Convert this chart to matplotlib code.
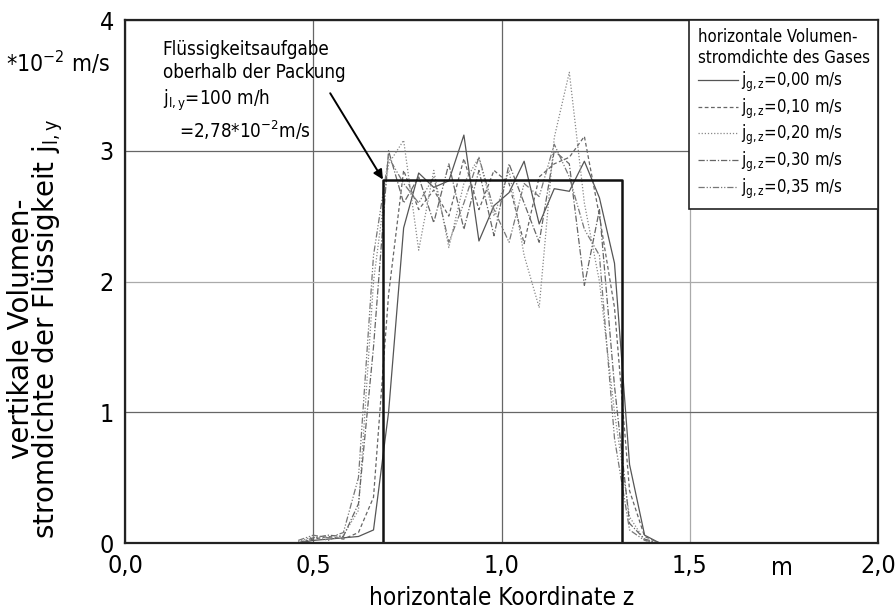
import matplotlib
matplotlib.use("Agg")
import matplotlib.pyplot as plt
from matplotlib.lines import Line2D

plt.rcParams['font.family'] = ['DejaVu Sans']
plt.rcParams['font.stretch'] = 'condensed'
plt.rcParams['mathtext.fontset'] = 'custom'
plt.rcParams['mathtext.rm'] = 'DejaVu Sans:stretch=condensed'
plt.rcParams['mathtext.it'] = 'DejaVu Sans:stretch=condensed'

# data
z = [0.46, 0.50, 0.54, 0.58, 0.62, 0.66, 0.70, 0.74, 0.78, 0.82, 0.86, 0.90, 0.94,
     0.98, 1.02, 1.06, 1.10, 1.14, 1.18, 1.22, 1.26, 1.30, 1.34, 1.38, 1.42]
j_000 = [0.00, 0.02, 0.03, 0.04, 0.05, 0.10, 1.00, 2.41, 2.83, 2.72, 2.77, 3.12, 2.31,
         2.58, 2.68, 2.92, 2.44, 2.71, 2.69, 2.92, 2.64, 2.14, 0.60, 0.06, 0.00]
j_010 = [0.00, 0.03, 0.05, 0.03, 0.08, 0.35, 1.90, 2.85, 2.55, 2.70, 2.50, 2.94, 2.55,
         2.85, 2.75, 2.29, 2.80, 2.90, 2.95, 3.11, 2.50, 1.80, 0.40, 0.05, 0.00]
j_020 = [0.01, 0.05, 0.02, 0.06, 0.25, 2.00, 2.90, 3.08, 2.24, 2.85, 2.26, 2.75, 2.95,
         2.50, 2.85, 2.20, 1.80, 3.10, 3.60, 2.60, 2.00, 1.00, 0.20, 0.02, 0.00]
j_030 = [0.00, 0.04, 0.06, 0.05, 0.30, 1.50, 3.00, 2.60, 2.80, 2.45, 2.90, 2.40, 2.85,
         2.35, 2.90, 2.60, 2.30, 3.00, 2.90, 1.97, 2.55, 1.20, 0.15, 0.03, 0.00]
j_035 = [0.02, 0.06, 0.04, 0.08, 0.50, 2.20, 2.95, 2.75, 2.60, 2.80, 2.30, 2.60, 2.95,
         2.55, 2.30, 2.75, 2.65, 3.05, 2.80, 2.40, 2.20, 0.80, 0.10, 0.02, 0.00]
series = [j_000, j_010, j_020, j_030, j_035]
labels = ['0,00', '0,10', '0,20', '0,30', '0,35']

# liquid feed profile (step)
feed_z = [0.685, 0.685, 1.32, 1.32]
feed_j = [0.0, 2.78, 2.78, 0.0]

xticks = [0.0, 0.5, 1.0, 1.5, 2.0]
xticklabels = ['0,0', '0,5', '1,0', '1,5', '2,0']
yticks = [0, 1, 2, 3, 4]

styles = [('-', '#555555'), ((0, (3, 2)), '#666666'), ((0, (1, 1.5)), '#888888'),
          ((0, (5, 1.5, 1, 1.5)), '#666666'), ((0, (5, 1.5, 1, 1.5, 1, 1.5)), '#777777')]

fig = plt.figure(figsize=(8.96, 6.12), dpi=100)
ax = fig.add_axes([0.1395, 0.1127, 0.8405, 0.8546])

ax.set_xlim(0, 2)
ax.set_ylim(0, 4)
ax.set_xticks(xticks)
ax.set_xticklabels(xticklabels)
ax.set_yticks(yticks)
ax.tick_params(length=0, labelsize=18, pad=8)
ax.grid(True, color='#666666', lw=0.9)
ax.set_axisbelow(True)
# lighter grid lines at z=1,5 and j=2
ax.xaxis.get_gridlines()[3].set_color('#aaaaaa')
ax.yaxis.get_gridlines()[2].set_color('#aaaaaa')
for s in ax.spines.values():
    s.set_linewidth(1.6)
    s.set_color('#222222')

for vals, (ls, col) in zip(series, styles):
    ax.plot(z, vals, ls=ls, color=col, lw=0.9)
ax.plot(feed_z, feed_j, color='#111111', lw=1.8)

ax.set_xlabel('horizontale Koordinate z', fontsize=17.5, labelpad=6)
ax.set_ylabel('vertikale Volumen-\nstromdichte der Flüssigkeit j$_{\\mathrm{l,y}}$',
              fontsize=20, linespacing=0.82, fontstretch='normal')
ax.yaxis.set_label_coords(-0.079, 0.41)
ax.text(-0.02, 3.67, '*10$^{-2}$ m/s', transform=ax.get_yaxis_transform(),
        ha='right', va='center', fontsize=16.5)
ax.text(1.745, -0.025, 'm', transform=ax.get_xaxis_transform(),
        ha='center', va='top', fontsize=18)

ax.text(0.10, 3.85, 'Flüssigkeitsaufgabe\noberhalb der Packung\n'
        'j$_{\\mathrm{l,y}}$=100 m/h\n   =2,78*10$^{-2}$m/s',
        ha='left', va='top', fontsize=13.5, linespacing=1.3)
ax.annotate('', xy=(0.685, 2.78), xytext=(0.545, 3.44),
            arrowprops=dict(arrowstyle='-|>', color='black', lw=1.4,
                            mutation_scale=14, shrinkA=0, shrinkB=0))

handles = [Line2D([], [], ls=ls, color=col, lw=0.9) for ls, col in styles]
leg_labels = ['j$_{\\mathrm{g,z}}$=' + l + ' m/s' for l in labels]
leg = ax.legend(handles, leg_labels, title='horizontale Volumen-\nstromdichte des Gases',
                loc='upper right', borderaxespad=0, fontsize=12, title_fontsize=12,
                frameon=True, fancybox=False, framealpha=1, edgecolor='#222222',
                handlelength=2.4, handletextpad=0.2, labelspacing=0.15,
                alignment='left', borderpad=0.5)
leg.get_frame().set_linewidth(1.2)

fig.savefig('out.png', dpi=100)
